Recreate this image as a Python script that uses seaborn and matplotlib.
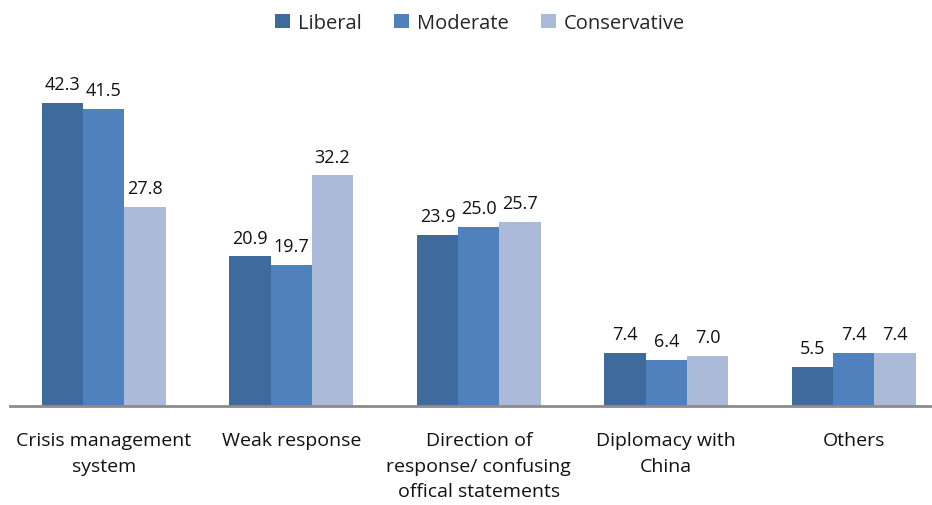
import pandas as pd
import matplotlib
matplotlib.use("Agg")
import matplotlib.pyplot as plt
import seaborn as sns

# Data
categories = ["Crisis management\nsystem", "Weak response",
              "Direction of\nresponse/ confusing\noffical statements",
              "Diplomacy with\nChina", "Others"]
liberal = [42.3, 20.9, 23.9, 7.4, 5.5]
moderate = [41.5, 19.7, 25.0, 6.4, 7.4]
conservative = [27.8, 32.2, 25.7, 7.0, 7.4]
groups = ["Liberal", "Moderate", "Conservative"]
colors = ["#3F6A9C", "#4F81BD", "#AABAD8"]

df = pd.DataFrame({
    "category": categories * 3,
    "value": liberal + moderate + conservative,
    "group": [g for g in groups for _ in categories],
})

sns.set_style("white")
plt.rcParams["font.family"] = ["Open Sans", "DejaVu Sans"]

fig = plt.figure(figsize=(9.32, 5.06), dpi=100)
ax = fig.add_axes([10 / 932, 99 / 506, 937.5 / 932, 358 / 506])

sns.barplot(data=df, x="category", y="value", hue="group", order=categories,
            hue_order=groups, palette=colors, saturation=1, width=0.66,
            linewidth=0, ax=ax, legend=True)

for c in ax.containers:
    ax.bar_label(c, fmt="%.1f", padding=7, fontsize=13, color="#111111")

ax.set_xlim(-0.5, 4.5)
ax.set_ylim(0, 50)
ax.set_xlabel("")
ax.set_ylabel("")
ax.set_yticks([])
ax.tick_params(axis="x", length=0, pad=18, labelsize=14, labelcolor="#111111")
for lbl in ax.get_xticklabels():
    lbl.set_linespacing(1.55)
for s in ["top", "right", "left"]:
    ax.spines[s].set_visible(False)
ax.spines["bottom"].set_color("#8C8C8C")
ax.spines["bottom"].set_linewidth(2)

ax.legend(loc="upper center", bbox_to_anchor=(470 / 937.5, 1 + 53 / 358),
          ncol=3, frameon=False, fontsize=14.5, handlelength=0.75,
          handleheight=0.75, handletextpad=0.4, columnspacing=1.6)

fig.savefig("out.png", dpi=100)
